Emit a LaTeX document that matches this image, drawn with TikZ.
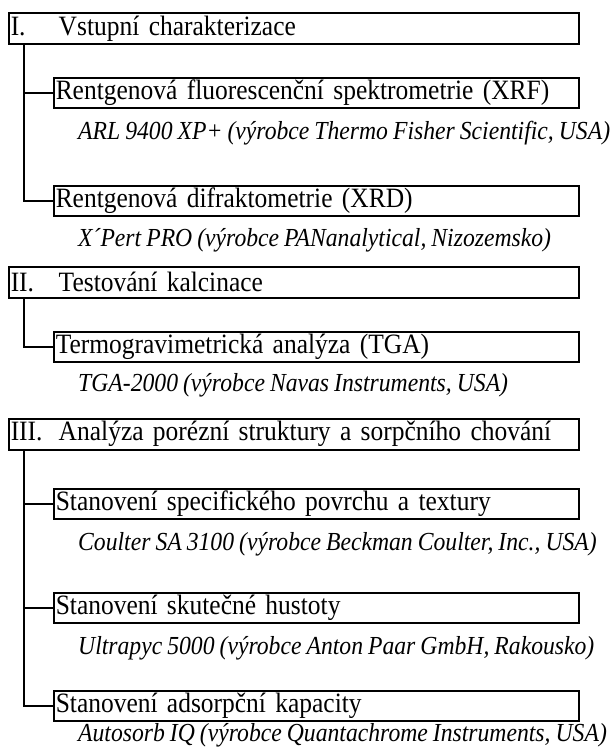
\documentclass[tikz,border=0pt]{standalone}
\usepackage{fontspec}
\setmainfont{Liberation Serif}[FakeStretch=0.91, WordSpace=0.85]
\begin{document}
\begin{tikzpicture}[x=1pt,y=-1pt,
  mainbox/.style={draw, line width=1.5pt, anchor=north west, minimum height=31pt,
    text width=566pt, inner xsep=2pt, inner ysep=0pt, align=left,
    font=\fontsize{28}{30}\selectfont},
  subbox/.style={draw, line width=1.5pt, anchor=north west, minimum height=30pt,
    text width=521pt, inner xsep=2pt, inner ysep=0pt, align=left,
    font=\fontsize{28}{30}\selectfont},
  note/.style={anchor=west, inner sep=0pt, font=\fontsize{26}{28}\selectfont\itshape},
  link/.style={draw, line width=1.5pt}]
\useasboundingbox (0,0) rectangle (611,747);

\node[mainbox] (b1) at (8,12) {\makebox[48pt][l]{I.}Vstupní charakterizace};
\node[subbox] (xrf) at (53,77) {Rentgenová fluorescenční spektrometrie (XRF)};
\node[note] (nxrf) at (78,133) {ARL 9400 XP+ (výrobce Thermo Fisher Scientific, USA)};
\node[subbox] (xrd) at (53,185) {Rentgenová difraktometrie (XRD)};
\node[note] (nxrd) at (78,240) {X´Pert PRO (výrobce PANanalytical, Nizozemsko)};

\node[mainbox] (b2) at (8,266) {\makebox[48pt][l]{II.}Testování kalcinace};
\node[subbox] (tga) at (53,331) {Termogravimetrická analýza (TGA)};
\node[note] (ntga) at (78,385) {TGA-2000 (výrobce Navas Instruments, USA)};

\node[mainbox] (b3) at (8,418) {\makebox[48pt][l]{III.}Analýza porézní struktury a sorpčního chování};
\node[subbox] (spec) at (53,488) {Stanovení specifického povrchu a textury};
\node[note] (nspec) at (78,544) {Coulter SA 3100 (výrobce Beckman Coulter, Inc., USA)};
\node[subbox] (dens) at (53,592) {Stanovení skutečné hustoty};
\node[note] (ndens) at (78,648) {Ultrapyc 5000 (výrobce Anton Paar GmbH, Rakousko)};
\node[subbox] (ads) at (53,690) {Stanovení adsorpční kapacity};
\node[note] (nads) at (78,735) {Autosorb IQ (výrobce Quantachrome Instruments, USA)};

\coordinate (t1) at ([xshift=16pt]b1.south west);
\coordinate (t2) at ([xshift=16pt]b2.south west);
\coordinate (t3) at ([xshift=16pt]b3.south west);
\path[link] (t1) |- (xrf.west);
\path[link] (t1) |- (xrd.west);
\path[link] (t2) |- (tga.west);
\path[link] (t3) |- (spec.west);
\path[link] (t3) |- (dens.west);
\path[link] (t3) |- (ads.west);
\end{tikzpicture}
\end{document}
